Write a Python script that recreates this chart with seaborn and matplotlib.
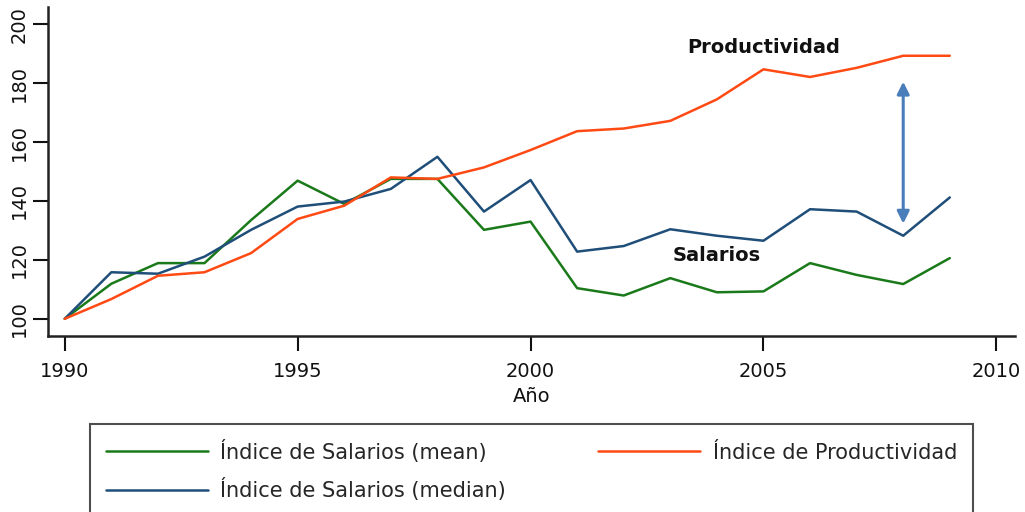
import numpy as np
import pandas as pd
import matplotlib
matplotlib.use("Agg")
import matplotlib.pyplot as plt
import seaborn as sns

years = list(range(1990, 2010))
sal_mean = [100.0, 111.9, 118.9, 118.9, 133.5, 146.9, 139.0, 147.5, 147.5, 130.2,
            133.0, 110.4, 107.9, 113.8, 109.0, 109.3, 118.9, 114.9, 111.8, 120.6]
sal_median = [100.0, 115.8, 115.3, 121.1, 130.2, 138.1, 139.8, 144.1, 155.0, 136.4,
              147.1, 122.8, 124.7, 130.4, 128.2, 126.5, 137.2, 136.4, 128.2, 141.2]
productividad = [100.0, 106.7, 114.6, 115.8, 122.3, 133.9, 138.4, 148.0, 147.5, 151.4,
                 157.3, 163.7, 164.6, 167.2, 174.5, 184.7, 182.1, 185.2, 189.3, 189.3]
series_names = ["Índice de Salarios (mean)", "Índice de Salarios (median)",
                "Índice de Productividad"]
colors = ["#1a7a1a", "#1f4e79", "#ff4a14"]

df = pd.DataFrame({"Año": years,
                   series_names[0]: sal_mean,
                   series_names[1]: sal_median,
                   series_names[2]: productividad})
long = df.melt(id_vars="Año", var_name="serie", value_name="indice")

sns.set_theme(style="ticks")
plt.rcParams["font.family"] = ["DejaVu Sans"]

fig = plt.figure(figsize=(10.25, 5.12), dpi=100)
ax = fig.add_axes([0.0468, 0.344, 0.943, 0.642])

sns.lineplot(data=long, x="Año", y="indice", hue="serie", hue_order=series_names,
             palette=colors, linewidth=1.8, ax=ax, legend=False)

ax.set_xlim(1989.64, 2010.39)
ax.set_ylim(94.2, 205.8)
ax.set_xticks([1990, 1995, 2000, 2005, 2010])
ax.set_yticks([100, 120, 140, 160, 180, 200])
ax.tick_params(axis="x", length=11, width=1.5, labelsize=14, pad=8, colors="#111111")
ax.tick_params(axis="y", length=11, width=1.5, labelsize=14, pad=3, colors="#111111")
for lab in ax.get_yticklabels():
    lab.set_rotation(90)
    lab.set_va("center")
ax.set_xlabel("Año", fontsize=14, labelpad=4, color="#111111")
ax.set_ylabel("")
sns.despine(ax=ax)
for s in ["left", "bottom"]:
    ax.spines[s].set_linewidth(1.8)
    ax.spines[s].set_color("#222222")

ax.text(2005, 192.2, "Productividad", ha="center", va="center",
        fontsize=14, fontweight="bold", color="#111111")
ax.text(2004, 121.4, "Salarios", ha="center", va="center",
        fontsize=14, fontweight="bold", color="#111111")
ax.annotate("", xy=(2008, 180.5), xytext=(2008, 132.3),
            arrowprops=dict(arrowstyle="<|-|>", color="#4a7ebb", lw=2.2,
                            mutation_scale=18, shrinkA=0, shrinkB=0))

handles = [plt.Line2D([], [], color=c, lw=1.8) for c in colors]
leg = fig.legend(handles, series_names,
                 ncol=2, loc="upper left", bbox_to_anchor=(0.088, 0.0, 0.861, 0.172),
                 mode="expand", frameon=True, fancybox=False, fontsize=15,
                 handlelength=4.9, borderpad=0.75, labelspacing=0.75,
                 columnspacing=2.0, handletextpad=0.6, borderaxespad=0)
leg.get_frame().set_edgecolor("#222222")
leg.get_frame().set_linewidth(1.5)

fig.savefig("out.png", dpi=100)
